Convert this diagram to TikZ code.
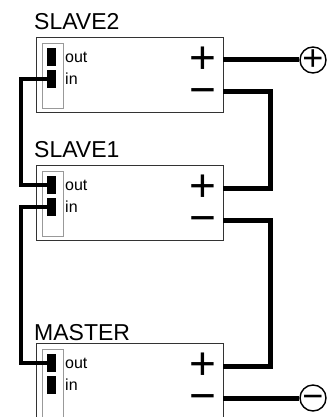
\documentclass[tikz,border=0pt]{standalone}
\usepackage{fontspec}
\setmainfont{Liberation Sans}
\usetikzlibrary{positioning,calc}
\tikzset{
modbox/.style={
  draw=black!80,
  line width=0.9pt,
  minimum width=187pt,
  minimum height=#1,
  inner sep=0pt,
  outer sep=0pt,
  anchor=north west
  },
jackstrip/.style={
  draw=black!40,
  line width=0.9pt,
  minimum width=21pt,
  minimum height=#1,
  inner sep=0pt,
  outer sep=0pt
  },
jackpad/.style={
  fill=black,
  minimum width=9pt,
  minimum height=18pt,
  inner sep=0pt,
  outer sep=0pt
  },
jacklabel/.style={
  font=\fontsize{16}{16}\selectfont,
  inner sep=0pt
  },
modlabel/.style={
  font=\fontsize{23}{23}\selectfont,
  inner sep=0pt,
  anchor=south west
  },
polsign/.style={
  font=\fontsize{46}{46}\selectfont,
  text height=27.6pt,
  text depth=-4.6pt,
  inner sep=0pt
  },
termsign/.style={
  font=\fontsize{36}{36}\selectfont,
  text height=21.6pt,
  text depth=-3.6pt,
  inner sep=0pt
  },
terminal/.style={
  circle,
  draw,
  line width=1.4pt,
  minimum size=26pt,
  inner sep=0pt
  },
powerwire/.style={line width=5pt},
signalwire/.style={line width=3.5pt}
}
\begin{document}
\begin{tikzpicture}[x=1pt,y=-1pt]
    \useasboundingbox (0,0) rectangle (327,417);
    % the three modules
    \foreach \m/\ytop/\boxh/\gap/\lbl in {s2/37/75/7/SLAVE2,s1/165/75/7/SLAVE1,m/343/80/2/MASTER}
    {
        \node[modbox=\boxh] (\m-box) at (36,\ytop) {};
        \node[modlabel] (\m-label) at ([xshift=-2,yshift=\gap]\m-box.north west) {\lbl};
        \node[jackstrip=\boxh-10,below right=6pt and 6pt of \m-box.north west] (\m-strip) {};
        \node[jackpad,below right=5pt and 5pt of \m-strip.north west] (\m-out) {};
        \node[jackpad,below=4pt of \m-out] (\m-in) {};
        \node[jacklabel,right=9pt of \m-out] (\m-outlbl) {out};
        \node[jacklabel,right=9pt of \m-in] (\m-inlbl) {in};
        \node[polsign] (\m-plus) at ([xshift=-20,yshift=-23]\m-box.north east) {+};
        \node[polsign] (\m-minus) at ([xshift=-20,yshift=-55]\m-box.north east) {−};
    }
    % terminals
    \node[terminal] (vpos) at (313,60) {};
    \node[termsign] (vpos-sign) at (vpos) {+};
    \node[terminal] (vneg) at (313,398) {};
    \node[termsign] (vneg-sign) at (vneg) {−};
    % power chain
    \draw[powerwire] (s2-plus -| s2-box.east) -- (vpos);
    \draw[powerwire] (s2-minus -| s2-box.east) -- ++(47.5,0) |- (s1-plus -| s1-box.east);
    \draw[powerwire] (s1-minus -| s1-box.east) -- ++(47.5,0) |- (m-plus -| m-box.east);
    \draw[powerwire] (m-minus -| m-box.east) -- (vneg);
    % sync links
    \draw[signalwire] (s2-in.west) -- ++(-26,0) |- (s1-out.west);
    \draw[signalwire] (s1-in.west) -- ++(-26,0) |- (m-out.west);
\end{tikzpicture}
\end{document}
